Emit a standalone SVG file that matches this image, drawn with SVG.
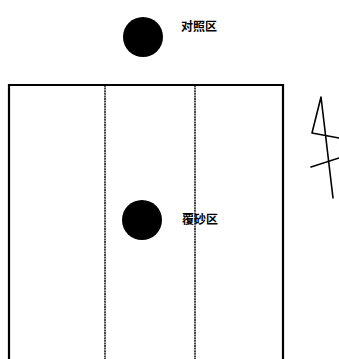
<svg xmlns="http://www.w3.org/2000/svg" width="339" height="359" viewBox="0 0 339 359">
<style>
.frame{fill:none;stroke:#000;stroke-width:2.2}
.div{fill:none;stroke:#000;stroke-width:1.4;stroke-dasharray:2 0.6}
.dot{fill:#000}
.lbl{font-family:"Noto Sans CJK SC","Liberation Sans",sans-serif;font-size:12px;font-weight:bold;fill:#000}
.n{fill:none;stroke:#000;stroke-width:1.6;stroke-linecap:round;stroke-linejoin:round}
</style>
<rect width="339" height="359" fill="#fff"/>
<g id="plot">
<path class="frame" d="M9 359 V85 H283 V359"/>
</g>
<g id="connectors">
<line class="div" x1="105" y1="85" x2="105" y2="359"/>
<line class="div" x1="195" y1="85" x2="195" y2="359"/>
</g>
<g id="control">
<circle class="dot" cx="143" cy="37" r="20"/>
<text class="lbl" x="181" y="31">对照区</text>
</g>
<g id="sand">
<circle class="dot" cx="142" cy="220" r="20"/>
<text class="lbl" x="182" y="224">覆砂区</text>
</g>
<g id="north">
<path class="n" d="M333 198 L321 97 L312 133 L339 138"/>
<path class="n" d="M311 167 L339 158"/>
</g>
</svg>
